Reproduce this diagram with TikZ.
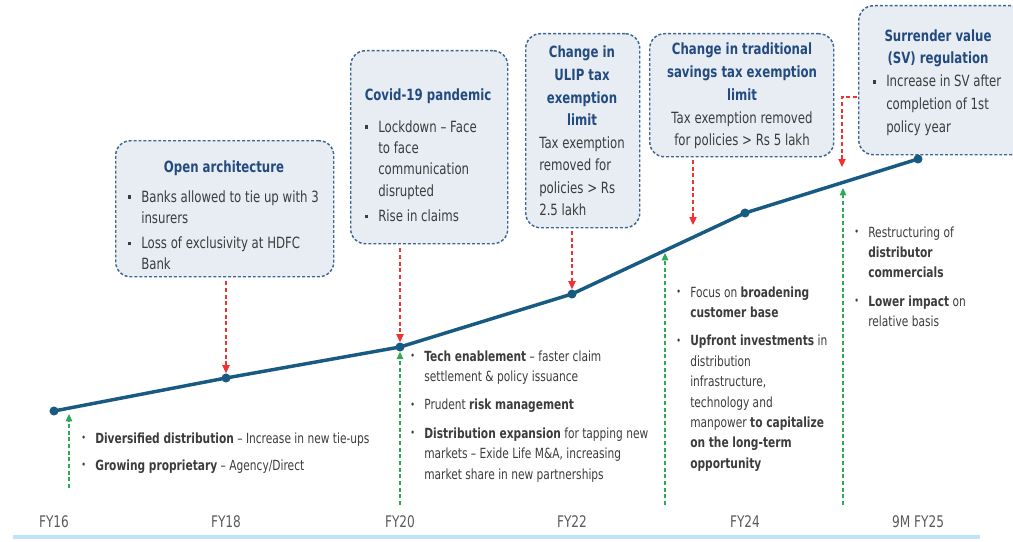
\documentclass[tikz,border=0pt]{standalone}
\usepackage{fontspec}
\setmainfont{DejaVu Sans}[FakeStretch=0.76]
\usepackage{graphicx}
\usetikzlibrary{arrows.meta}

\definecolor{titleblue}{RGB}{35,75,128}
\definecolor{bodygray}{RGB}{60,60,60}
\definecolor{boxfill}{RGB}{232,237,244}
\definecolor{boxedge}{RGB}{62,102,148}
\definecolor{trendblue}{RGB}{25,90,130}
\definecolor{markred}{RGB}{240,50,50}
\definecolor{markgreen}{RGB}{45,170,85}
\definecolor{axisgray}{RGB}{90,90,90}
\definecolor{baseblue}{RGB}{190,228,248}

% type sizes (1px = 0.75pt)
\newcommand\boxfont{\fontsize{11.6pt}{16.1pt}\selectfont}
\newcommand\tallfont{\fontsize{11.6pt}{16.9pt}\selectfont}
\newcommand\lowfont{\fontsize{10.5pt}{15.3pt}\selectfont}
\newcommand\axisfont{\fontsize{12pt}{14pt}\selectfont}

% bullets
\newcommand\sqb{\raisebox{0.2em}{\rule{2.4pt}{2.8pt}}}
\newcommand\rdot{\raisebox{0.1em}{\scalebox{0.75}{\textbullet}}}
\newcommand\boxlist[1]{\begin{tabular}[t]{@{}p{9.75pt}@{}l@{}}#1\end{tabular}}
\newcommand\lowlist[1]{\begin{tabular}[t]{@{}p{10.5pt}@{}l@{}}#1\end{tabular}}
\newcommand\ctr[1]{\begin{tabular}[t]{@{}c@{}}#1\end{tabular}}
\newcommand\lft[1]{\begin{tabular}[t]{@{}l@{}}#1\end{tabular}}

\tikzset{
  event/.style={draw=boxedge, fill=boxfill, line width=1.1pt,
    dash pattern=on 2.2pt off 1.5pt, rounded corners=11pt,
    inner sep=0pt, anchor=north west},
  headline/.style={text=titleblue, font=\boxfont\bfseries, inner sep=0pt, anchor=base},
  boxtext/.style={text=bodygray, font=\boxfont, inner sep=0pt, anchor=base west},
  lowtext/.style={text=bodygray, font=\lowfont, inner sep=0pt, anchor=base west},
  yearlabel/.style={text=axisgray, font=\axisfont, inner sep=0pt, anchor=base},
  trend/.style={draw=trendblue, line width=2.6pt, line join=round},
  yeardot/.style={circle, fill=trendblue, minimum size=6.8pt, inner sep=0pt},
  redarr/.style={draw=markred, line width=0.8pt, dash pattern=on 3pt off 2pt,
    -{Triangle[width=5.5pt,length=6pt]}},
  greenarr/.style={draw=markgreen, line width=0.8pt, dash pattern=on 3pt off 2pt,
    -{Triangle[width=5pt,length=5.5pt]}},
}

\begin{document}
\begin{tikzpicture}[x=0.75pt,y=-0.75pt]
\useasboundingbox (0,0) rectangle (1013,542);
\begin{scope}
\clip (0,0) rectangle (1013,542);

% event boxes
\node[event, minimum width=163.5pt, minimum height=102pt] (b1) at (115,140) {};
\node[event, minimum width=117.75pt, minimum height=144.75pt] (b2) at (350,50) {};
\node[event, minimum width=85.5pt, minimum height=145.5pt] (b3) at (525,33) {};
\node[event, minimum width=138pt, minimum height=92.25pt] (b4) at (649,33) {};
\node[event, minimum width=125.25pt, minimum height=111.75pt] (b5) at (858,5) {};

% box contents
\node[headline] (h1) at (224,172) {Open architecture};
\node[boxtext] (l1) at (128,202) {\boxlist{%
  \sqb & Banks allowed to tie up with 3\\
       & insurers\\[2.6pt]
  \sqb & Loss of exclusivity at HDFC\\
       & Bank}};

\node[headline] (h2) at (428,100) {Covid-19 pandemic};
\node[boxtext] (l2) at (365,132) {\boxlist{%
  \sqb & Lockdown – Face\\
       & to face\\
       & communication\\
       & disrupted\\[2.6pt]
  \sqb & Rise in claims}};

\node[headline, font=\tallfont\bfseries] (h3) at (582,58) {\ctr{Change in\\ULIP tax\\exemption\\limit}};
\node[boxtext, font=\tallfont] (l3) at (539,148) {\lft{Tax exemption\\removed for\\policies > Rs\\2.5 lakh}};

\node[headline, font=\tallfont\bfseries] (h4) at (742,55) {\ctr{Change in traditional\\savings tax exemption\\limit}};
\node[headline, font=\tallfont, text=bodygray] (l4) at (742,123) {\ctr{Tax exemption removed\\for policies > Rs 5 lakh}};

\node[headline] (h5) at (938,42) {\ctr{Surrender value\\(SV) regulation}};
\node[boxtext, font=\tallfont] (l5) at (873,87) {\boxlist{%
  \sqb & Increase in SV after\\
       & completion of 1st\\
       & policy year}};

% growth line
\node[yeardot] (p16) at (54,411) {};
\node[yeardot] (p18) at (226,378) {};
\node[yeardot] (p20) at (400,347) {};
\node[yeardot] (p22) at (572,294) {};
\node[yeardot] (p24) at (745,213) {};
\node[yeardot] (p25) at (918,159) {};
\draw[trend] (p16.center) -- (p18.center) -- (p20.center) -- (p22.center)
  -- (p24.center) -- (p25.center);

% events pointing down onto the line
\draw[redarr, shorten <=3pt] (b1.south -| p18) -- (p18.north);
\draw[redarr, shorten <=3pt] (b2.south -| p20) -- (p20.north);
\draw[redarr, shorten <=2pt] (b3.south -| p22) -- (p22.north);
\coordinate (t4) at (693,225);
\draw[redarr, shorten <=2pt] (b4.south -| t4) -- (t4);
\coordinate (k5) at (857,97);
\coordinate (t5) at (842,167);
\draw[redarr] (k5) -| (t5);

% responses pointing up to the line
\coordinate (g16) at (69,488);  \coordinate (u16) at (69,414);
\coordinate (g20) at (400,505);
\coordinate (g23) at (665,505); \coordinate (u23) at (665,253);
\coordinate (g25) at (843,505); \coordinate (u25) at (843,188);
\draw[greenarr] (g16) -- (u16);
\draw[greenarr] (g20) -- (p20.south);
\draw[greenarr] (g23) -- (u23);
\draw[greenarr] (g25) -- (u25);

% responses
\node[lowtext] (r16) at (81,443) {\lowlist{%
  \rdot & \textbf{Diversified distribution} – Increase in new tie-ups\\[5pt]
  \rdot & \textbf{Growing proprietary} – Agency/Direct}};
\node[lowtext] (r20) at (410,361) {\lowlist{%
  \rdot & \textbf{Tech enablement} – faster claim\\
        & settlement \& policy issuance\\[6pt]
  \rdot & Prudent \textbf{risk management}\\[6pt]
  \rdot & \textbf{Distribution expansion} for tapping new\\
        & markets – Exide Life M\&A, increasing\\
        & market share in new partnerships}};
\node[lowtext] (r24) at (676,297) {\lowlist{%
  \rdot & Focus on \textbf{broadening}\\
        & \textbf{customer base}\\[6pt]
  \rdot & \textbf{Upfront investments} in\\
        & distribution\\
        & infrastructure,\\
        & technology and\\
        & manpower \textbf{to capitalize}\\
        & \textbf{on the long-term}\\
        & \textbf{opportunity}}};
\node[lowtext] (r25) at (854,237) {\lowlist{%
  \rdot & Restructuring of\\
        & \textbf{distributor}\\
        & \textbf{commercials}\\[6pt]
  \rdot & \textbf{Lower impact} on\\
        & relative basis}};

% year axis
\node[yearlabel] (y16) at (54,527) {FY16};
\node[yearlabel] (y18) at (226,527) {FY18};
\node[yearlabel] (y20) at (400,527) {FY20};
\node[yearlabel] (y22) at (572,527) {FY22};
\node[yearlabel] (y24) at (745,527) {FY24};
\node[yearlabel] (y25) at (918,527) {9M FY25};
\coordinate (a0) at (13,537);
\coordinate (a1) at (980,537);
\draw[baseblue, line width=2.3pt] (a0) -- (a1);
\end{scope}
\end{tikzpicture}
\end{document}
